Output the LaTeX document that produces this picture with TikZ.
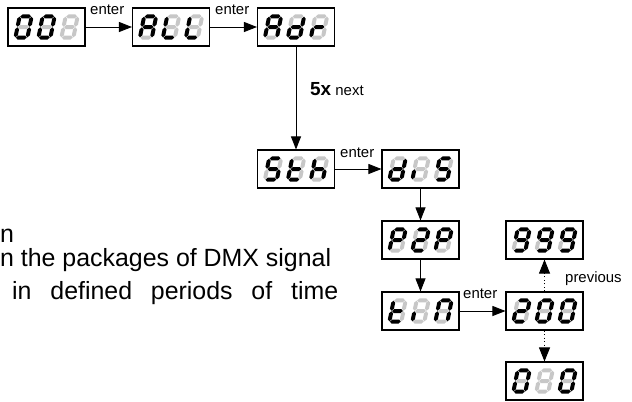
\documentclass[tikz,border=0pt]{standalone}
\usepackage{fontspec}
\setmainfont{Liberation Sans}
\usetikzlibrary{arrows.meta}
\definecolor{segoff}{gray}{0.78}
\tikzset{
  disp/.style={draw=black, line width=1.1bp, minimum width=77bp, minimum height=38bp, inner sep=0pt, fill=white},
  conn/.style={line width=0.9bp, -{Triangle[length=13bp,width=10bp]}},
  dotconn/.style={line width=0.9bp, dash pattern=on 1bp off 2.5bp, -{Triangle[length=14bp,width=11bp]}},
  lbl/.style={font=\fontsize{15}{15}\selectfont, inner sep=0pt, anchor=base west},
  txt/.style={font=\fontsize{25}{25}\selectfont, inner sep=0pt, anchor=base west},
  s1/.style={fill=black}, s0/.style={fill=segoff},
}
\newcommand\hsg[3]{\fill[#3] (#1-5.4,#2) -- (#1-3.4,#2-2) -- (#1+3.4,#2-2) -- (#1+5.4,#2) -- (#1+3.4,#2+2) -- (#1-3.4,#2+2) -- cycle;}
\newcommand\vsg[3]{\fill[#3] (#1,#2-5) -- (#1+2,#2-3) -- (#1+2,#2+3) -- (#1,#2+5) -- (#1-2,#2+3) -- (#1-2,#2-3) -- cycle;}
\def\dgtsegs#1#2#3#4#5#6#7\relax{%
  \hsg{0}{-10.6}{s#1}\vsg{6}{-5.3}{s#2}\vsg{6}{5.3}{s#3}\hsg{0}{10.6}{s#4}%
  \vsg{-6}{5.3}{s#5}\vsg{-6}{-5.3}{s#6}\hsg{0}{0}{s#7}}
\newcommand\dgt[2]{\begin{scope}[shift={#1}, xslant=0.2]\dgtsegs#2\relax\end{scope}}
\newcommand\dbox[5]{%
  \node[disp] (#1) at #2 {};
  \begin{scope}[shift={#2}]
    \dgt{(-23,0)}{#3}\dgt{(0,0)}{#4}\dgt{(23,0)}{#5}
  \end{scope}}
\begin{document}
\begin{tikzpicture}[x=1bp,y=-1bp]
\useasboundingbox (0,0) rectangle (632,401);
% displays
\dbox{n001}{(46.5,27)}{1111110}{1111110}{0000000}
\dbox{nALL}{(171,27)}{1110111}{0001110}{0001110}
\dbox{nAdr}{(296,27)}{1110111}{0111101}{0000101}
\dbox{nSth}{(296,169)}{1011011}{0001111}{0010111}
\dbox{ndIS}{(420.5,169)}{0111101}{0000100}{1011011}
\dbox{nP2P}{(420.5,240)}{1100111}{1101101}{1100111}
\dbox{ntIN}{(420.5,311)}{0001111}{0000100}{1110110}
\dbox{n200}{(544.5,311)}{1101101}{1111110}{1111110}
\dbox{n999}{(544.5,240)}{1111011}{1111011}{1111011}
\dbox{n010}{(544.5,381)}{1111110}{0000000}{1111110}
% connectors
\draw[conn] (n001) -- (nALL);
\draw[conn] (nALL) -- (nAdr);
\draw[conn] (nAdr) -- (nSth);
\draw[conn] (nSth) -- (ndIS);
\draw[conn] (ndIS) -- (nP2P);
\draw[conn] (nP2P) -- (ntIN);
\draw[conn] (ntIN) -- (n200);
\draw[dotconn] (n200) -- (n999);
\draw[dotconn] (n200) -- (n010);
% labels
\node[lbl] (e1) at (90,14) {enter};
\node[lbl] (e2) at (215,14) {enter};
\node[lbl] (e3) at (340,157) {enter};
\node[lbl] (e4) at (463,298) {enter};
\node[inner sep=0pt, anchor=base west] (nx) at (310,95) {\fontsize{19}{19}\selectfont\bfseries 5x\fontsize{15}{15}\selectfont\mdseries\ next};
\node[lbl] (prev) at (565,282) {previous};
% left text
\node[txt] (t1) at (0,242) {n};
\node[txt] (t2) at (0,266) {n the packages of DMX signal};
\node[txt] (t3) at (12,299) {\makebox[326bp][s]{in defined periods of time}};
\end{tikzpicture}
\end{document}
